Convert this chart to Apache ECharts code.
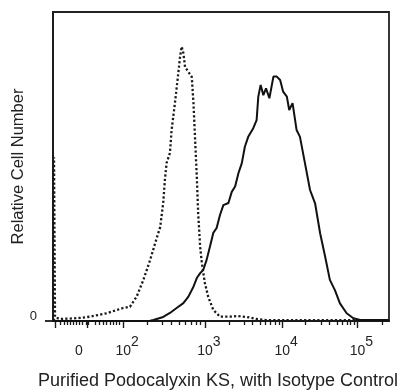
<!DOCTYPE html>
<html>
<head>
<meta charset="utf-8">
<script src="https://cdn.jsdelivr.net/npm/echarts@6/dist/echarts.min.js"></script>
<style>
  html, body { margin: 0; padding: 0; background: #ffffff; }
  #chart { width: 408px; height: 390px; }
</style>
</head>
<body>
<div id="chart"></div>
<script>
// Display channels (0-1000 across the plot, biexponential display scale)
const xLabelChannels = [77, 209, 452, 682, 906];
const xLabelTexts = ['0', '10^2', '10^3', '10^4', '10^5'];
const majorTickChannels = [8, 101, 209, 452, 682, 906];
const minorTickChannels = [22, 33, 42, 52, 61, 68, 79, 88, 98, 104, 125, 137, 149, 159, 170, 179, 188, 196,
  281, 325, 353, 377, 395, 410, 425, 437,
  524, 568, 593, 618, 633, 648, 660, 673,
  752, 797, 821, 846, 861, 876, 886, 896,
  980];

// Isotype control (dotted)
const isotypeChannel = [3, 3, 6, 21, 51, 80, 110, 160, 208, 229, 249, 269, 289, 304, 319, 328, 333, 338, 348, 353,
  363, 373, 378, 383, 388, 393, 403, 413, 418, 423, 428, 432, 438, 443, 452, 462, 477, 497, 527, 547, 577,
  606, 636, 735, 1000];
const isotypeCount = [0, 53, 1.2, 0.65, 0.8, 1.0, 1.4, 2.5, 4.2, 4.6, 7.9, 13.3, 19.7, 25.2, 30.4, 38.2, 45.6, 51.1, 54.4, 61.8,
  70.6, 80.3, 85.4, 88.8, 86.7, 82.2, 80.6, 79, 70.6, 58.6, 46.6, 35, 23.9, 18.8, 12.3, 7.8, 3.6, 1.4, 1.4, 1.6, 1.3,
  0.65, 0.3, 0.3, 0.2];

// Purified Podocalyxin KS (solid)
const sampleChannel = [0, 289, 299, 328, 348, 368, 388, 403, 418, 428, 438, 447, 457, 467, 477, 487, 497, 507, 522,
  532, 542, 552, 562, 571, 581, 596, 606, 611, 618, 626, 634, 644, 656, 666, 676, 685, 696, 703, 713, 725, 735,
  750, 765, 780, 795, 810, 824, 839, 854, 874, 894, 914, 1000];
const sampleCount = [0, 0.1, 0.3, 1.3, 2.6, 4.2, 5.8, 7.9, 11.1, 13.9, 15.5, 16.5, 19.7, 24, 28.5, 30.1, 34.3, 37.5, 38.2,
  41.8, 43.5, 47.9, 51.1, 56.4, 59.6, 62.4, 65, 72.6, 76.4, 73.1, 75.3, 72.1, 79.1, 79.1, 78, 74.2, 72.6, 68.3, 70.5, 61.8, 59.6,
  51, 42.4, 38.1, 28.4, 20.8, 13.3, 10, 5.7, 2.5, 0.9, 0.3, 0.3];

const FONT = '"Liberation Sans", Arial, sans-serif';
const zip = (xs, ys) => xs.map((x, i) => [x, ys[i]]);

function xLabelFormatter(value) {
  let idx = -1;
  xLabelChannels.forEach((c, i) => { if (Math.abs(c - value) < 1e-6) idx = i; });
  if (idx < 0) return '';
  const t = xLabelTexts[idx];
  if (t.indexOf('^') < 0) return '{z|' + t + '}';
  const parts = t.split('^');
  return '{b|' + parts[0] + '}{s|' + parts[1] + '}';
}

const chart = echarts.init(document.getElementById('chart'), null, { renderer: 'canvas' });
chart.setOption({
  animation: false,
  backgroundColor: '#ffffff',
  grid: {
    left: 53, right: 19, top: 12, bottom: 69,
    containLabel: false, outerBoundsMode: 'none',
    show: true, borderColor: '#222', borderWidth: 1.8, backgroundColor: 'transparent'
  },
  xAxis: [
    {
      type: 'value', min: 0, max: 1000, position: 'bottom',
      name: 'Purified Podocalyxin KS, with Isotype Control',
      nameLocation: 'middle', nameGap: 51, nameMoveOverlap: false,
      nameTextStyle: { fontFamily: FONT, fontSize: 18, color: '#222', padding: [0, 6, 0, 0] },
      axisLine: { show: true, lineStyle: { color: '#1a1a1a', width: 1.8 } },
      axisTick: { show: true, customValues: majorTickChannels, length: 7, lineStyle: { color: '#1a1a1a', width: 1.4 } },
      axisLabel: {
        show: true, customValues: xLabelChannels, margin: 19,
        formatter: xLabelFormatter,
        rich: {
          b: { fontFamily: FONT, fontSize: 14, lineHeight: 14, color: '#222', padding: [9, 0, 0, 8] },
          s: { fontFamily: FONT, fontSize: 14, lineHeight: 14, color: '#222', padding: [0, 0, 9, 0] },
          z: { fontFamily: FONT, fontSize: 14, lineHeight: 14, color: '#222', padding: [9, 0, 0, 0] }
        }
      },
      splitLine: { show: false }
    },
    {
      type: 'value', min: 0, max: 1000, position: 'bottom',
      axisLine: { show: false },
      axisTick: { show: true, customValues: minorTickChannels, length: 4, lineStyle: { color: '#1a1a1a', width: 1.3 } },
      axisLabel: { show: false },
      splitLine: { show: false }
    }
  ],
  yAxis: {
    type: 'value', min: 0, max: 100,
    name: 'Relative Cell Number',
    nameLocation: 'middle', nameGap: 26, nameRotate: 90, nameMoveOverlap: false,
    nameTextStyle: { fontFamily: FONT, fontSize: 16.5, color: '#222' },
    axisLine: { show: true, lineStyle: { color: '#1a1a1a', width: 1.8 } },
    axisTick: { show: true, customValues: [0], length: 8, lineStyle: { color: '#1a1a1a', width: 1.8 } },
    axisLabel: {
      show: true, customValues: [0], margin: 16,
      formatter: function (v) { return '{a|' + v + '}'; },
      rich: {
        a: { fontFamily: FONT, fontSize: 13, lineHeight: 13, color: '#222', padding: [0, 0, 9, 0] }
      }
    },
    splitLine: { show: false }
  },
  series: [
    {
      name: 'Isotype Control', type: 'line', xAxisIndex: 0,
      data: zip(isotypeChannel, isotypeCount),
      showSymbol: false, smooth: false,
      lineStyle: { color: '#1a1a1a', width: 2.3, type: [2.2, 2.2] }
    },
    {
      name: 'Purified Podocalyxin KS', type: 'line', xAxisIndex: 0,
      data: zip(sampleChannel, sampleCount),
      showSymbol: false, smooth: false,
      lineStyle: { color: '#111', width: 2 }
    }
  ]
});
</script>
</body>
</html>
